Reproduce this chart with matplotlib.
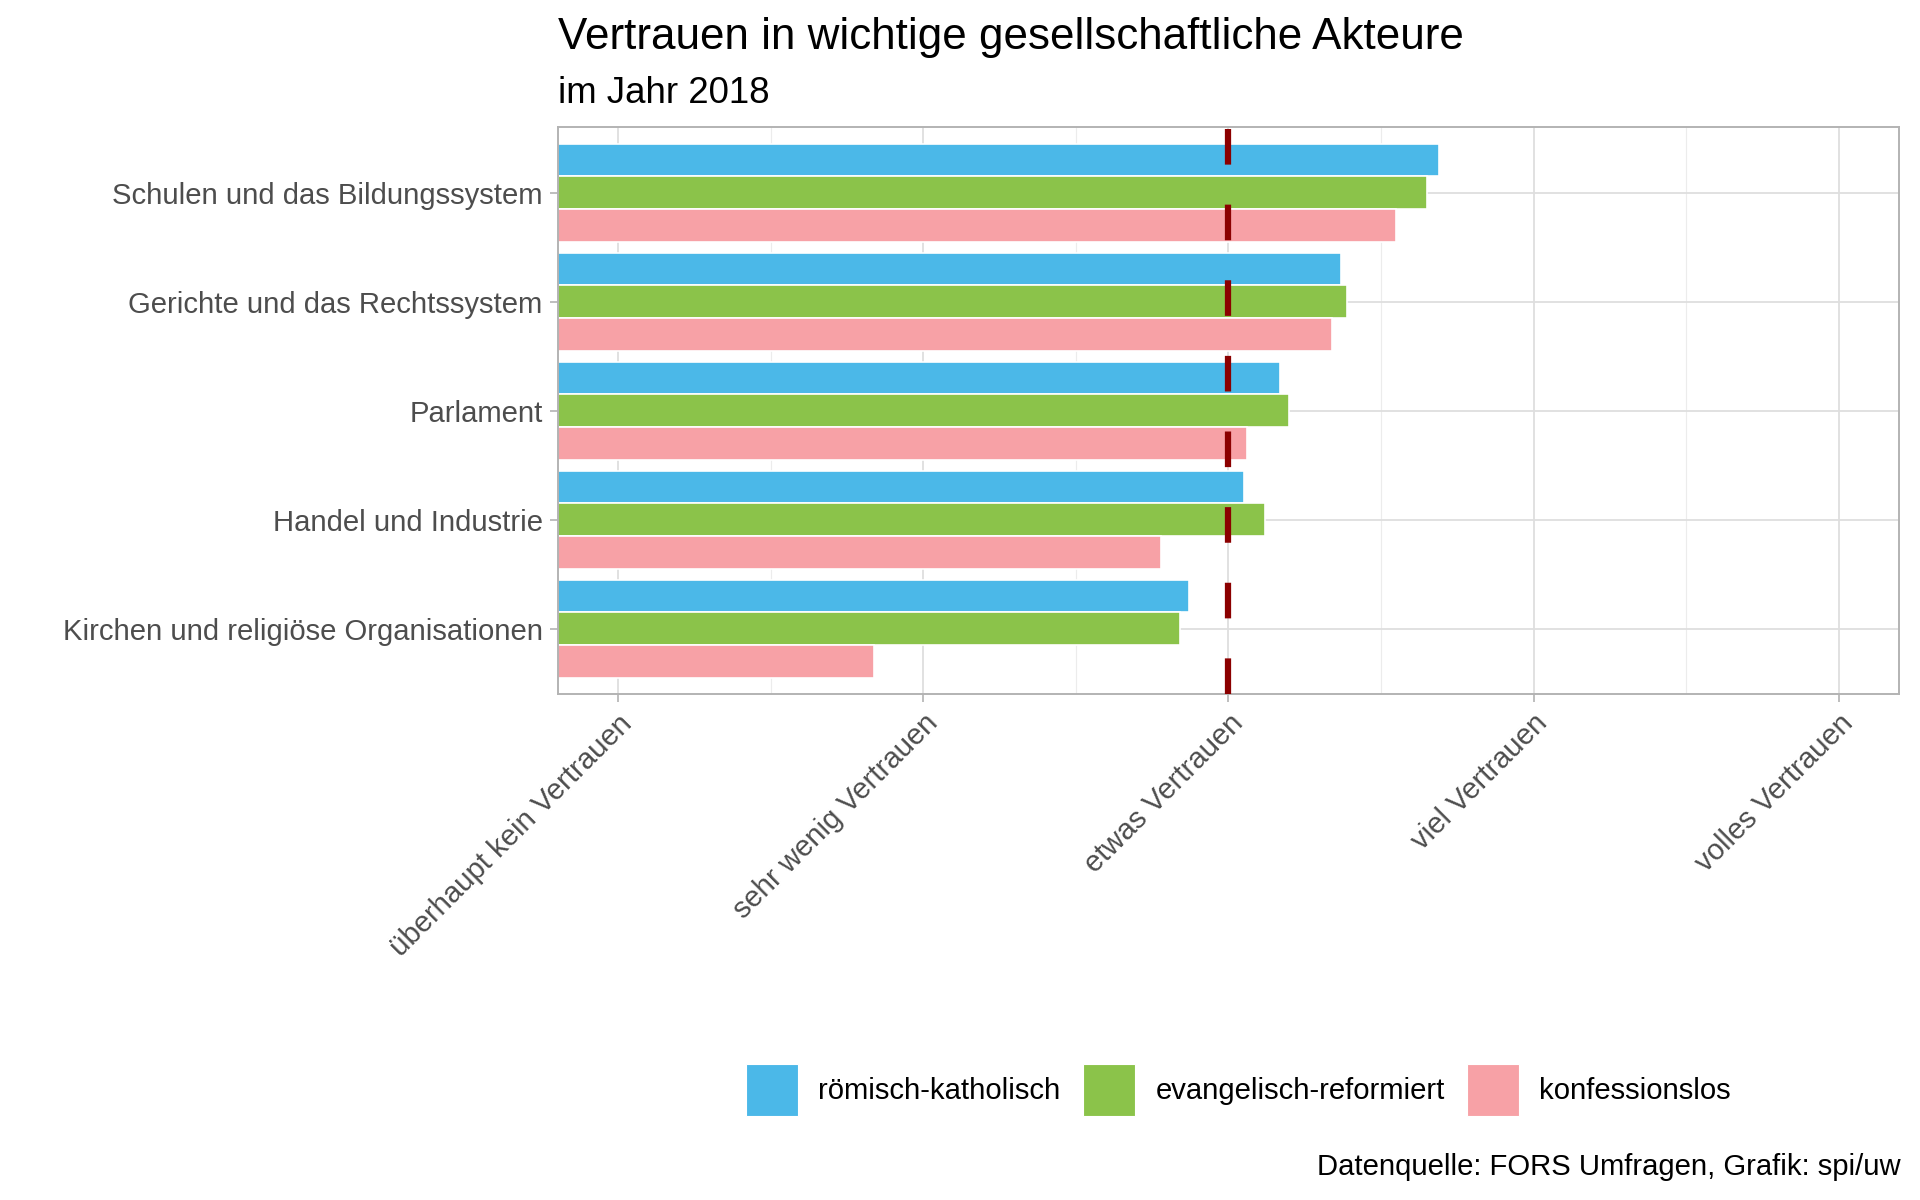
import matplotlib.pyplot as plt
from matplotlib.patches import Patch
import numpy as np

plt.rcParams['font.family'] = ['Liberation Sans', 'DejaVu Sans']

# categories from bottom to top
actors = ["Kirchen und religiöse Organisationen", "Handel und Industrie", "Parlament",
          "Gerichte und das Rechtssystem", "Schulen und das Bildungssystem"]
katholisch = [2.87, 3.05, 3.17, 3.37, 3.69]
reformiert = [2.84, 3.12, 3.20, 3.39, 3.65]
konfessionslos = [1.84, 2.78, 3.06, 3.34, 3.55]

groups = ["römisch-katholisch", "evangelisch-reformiert", "konfessionslos"]
colors = ["#4bb8e8", "#8bc34a", "#f7a1a6"]

scale_labels = ["überhaupt kein Vertrauen", "sehr wenig Vertrauen", "etwas Vertrauen",
                "viel Vertrauen", "volles Vertrauen"]
scale_pos = [1, 2, 3, 4, 5]
reference_line = 3

base = 21.1

fig = plt.figure(figsize=(19.2, 12), dpi=100)
ax = fig.add_axes([0.2906, 0.4217, 0.989 - 0.2906, 0.894 - 0.4217])

y = np.arange(1, len(actors) + 1)
h = 0.3
for vals, off, col in zip([katholisch, reformiert, konfessionslos], [h, 0, -h], colors):
    ax.barh(y + off, vals, height=h, color=col, edgecolor="white", linewidth=1.2, zorder=2)

ax.axvline(reference_line, color="#8b0000", linewidth=4.5, linestyle=(0, (5.7, 6.4)),
           solid_capstyle="butt", dash_capstyle="butt", zorder=3)

ax.set_xlim(0.803, 5.197)
ax.set_ylim(0.4, 5.6)
ax.set_yticks(y)
ax.set_yticklabels(actors, fontsize=base, color="#4d4d4d")
ax.set_xticks(scale_pos)
ax.set_xticklabels(scale_labels, fontsize=base, color="#4d4d4d", rotation=45,
                   ha="right", rotation_mode="anchor")
ax.set_xticks([1.5, 2.5, 3.5, 4.5], minor=True)

ax.grid(True, which="major", color="#dedede", linewidth=1.3, zorder=0)
ax.grid(True, which="minor", axis="x", color="#ececec", linewidth=0.8, zorder=0)
ax.set_axisbelow(True)
ax.tick_params(axis="both", which="major", length=6, width=1.2, color="#b3b3b3", pad=5)
ax.tick_params(axis="x", which="minor", length=0)
for s in ax.spines.values():
    s.set_color("#b3b3b3")
    s.set_linewidth(1.4)

fig.text(0.2906, 0.959, "Vertrauen in wichtige gesellschaftliche Akteure", fontsize=base * 1.5,
         ha="left", va="baseline")
fig.text(0.2906, 0.9145, "im Jahr 2018", fontsize=base * 1.25, ha="left", va="baseline")

handles = [Patch(facecolor=c, edgecolor="white", linewidth=0.8, label=g) for g, c in zip(groups, colors)]
fig.legend(handles=handles, loc="center", bbox_to_anchor=(0.645, 0.092), ncol=3, frameon=False,
           fontsize=base, handlelength=1.77, handleheight=2.35, handletextpad=0.71,
           columnspacing=0.75)

fig.text(0.99, 0.0208, "Datenquelle: FORS Umfragen, Grafik: spi/uw", fontsize=base,
         ha="right", va="baseline")

fig.savefig("out.png", dpi=100, facecolor="white")
